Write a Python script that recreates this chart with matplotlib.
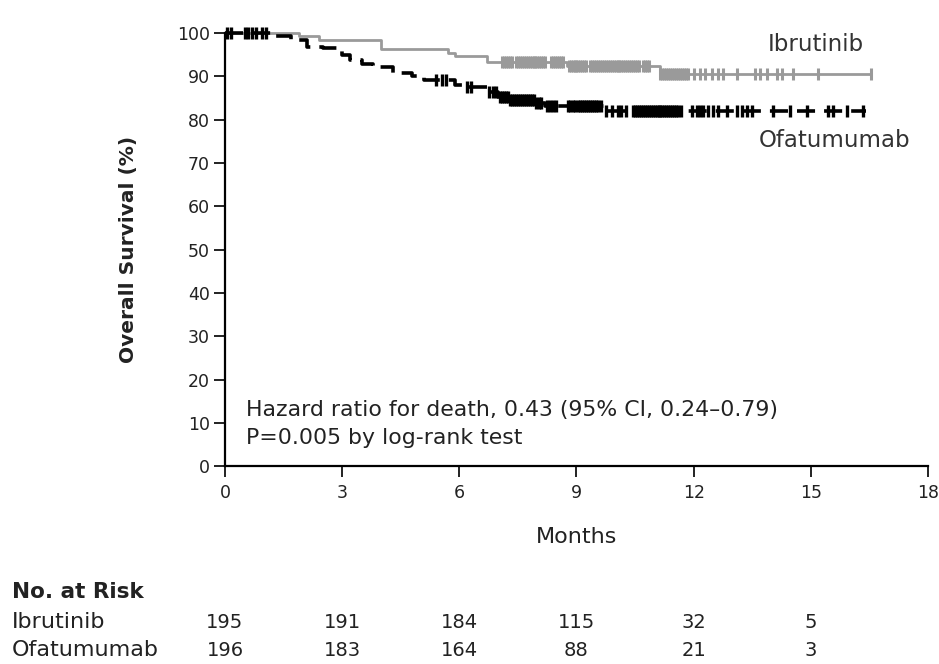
import numpy as np
import matplotlib
matplotlib.use("Agg")
import matplotlib.pyplot as plt
import matplotlib.transforms as mtransforms

plt.rcParams['font.family'] = ['DejaVu Sans']

# Kaplan-Meier steps (months, % surviving)
ibr_t = [0, 1.9, 2.4, 4.0, 5.7, 5.9, 6.7, 8.75, 11.15, 16.55]
ibr_s = [100, 99.3, 98.5, 96.3, 95.5, 94.7, 93.3, 92.5, 90.6, 90.6]
ofa_t = [0, 1.3, 1.7, 2.1, 2.5, 3.0, 3.2, 3.5, 3.8, 4.3, 4.8, 5.1, 5.9, 6.1,
         6.7, 7.0, 7.3, 7.95, 8.2, 9.7, 16.4]
ofa_s = [100, 99.4, 98.4, 96.8, 96.5, 95.0, 93.7, 93.0, 92.3, 90.8, 90.2, 89.3,
         88.0, 87.5, 86.5, 85.3, 84.6, 83.8, 83.2, 82.0, 82.0]

# censoring times
ibr_cens = [7.1, 7.15, 7.2, 7.25, 7.3, 7.35, 7.45, 7.5, 7.55, 7.6, 7.65, 7.7,
            7.75, 7.8, 7.85, 7.9, 7.95, 8.0, 8.05, 8.1, 8.15, 8.2, 8.35, 8.4,
            8.45, 8.5, 8.55, 8.6, 8.65, 8.8, 8.85, 8.9, 8.95, 9.0, 9.05, 9.1,
            9.15, 9.2, 9.25, 9.35, 9.4, 9.45, 9.5, 9.55, 9.6, 9.65, 9.7, 9.75,
            9.8, 9.85, 9.9, 9.95, 10.0, 10.05, 10.1, 10.15, 10.2, 10.25, 10.3,
            10.35, 10.4, 10.45, 10.5, 10.55, 10.6, 10.7, 10.75, 10.8, 10.85,
            11.15, 11.2, 11.25, 11.3, 11.35, 11.4, 11.45, 11.5, 11.55, 11.6,
            11.65, 11.7, 11.75, 11.8, 11.85, 12.0, 12.16, 12.29, 12.47, 12.62,
            12.75, 13.1, 13.57, 13.7, 13.88, 14.13, 14.26, 14.54, 15.18, 16.55]
ofa_cens = [0.05, 0.15, 0.5, 0.6, 0.7, 0.8, 0.95, 1.05, 5.4, 5.55, 5.65, 6.2,
            6.3, 6.75, 6.85, 6.95, 7.05, 7.1, 7.15, 7.2, 7.25, 7.3, 7.35, 7.4,
            7.45, 7.5, 7.55, 7.6, 7.65, 7.7, 7.75, 7.8, 7.85, 7.9, 7.97, 8.03,
            8.1, 8.25, 8.32, 8.4, 8.48, 8.77, 8.83, 8.9, 8.97, 9.04, 9.1, 9.15,
            9.2, 9.25, 9.3, 9.35, 9.4, 9.45, 9.5, 9.55, 9.62, 9.75, 9.9, 10.06,
            10.15, 10.28, 10.45, 10.5, 10.55, 10.6, 10.65, 10.7, 10.75, 10.8,
            10.85, 10.9, 10.95, 11.0, 11.05, 11.1, 11.15, 11.2, 11.25, 11.3,
            11.35, 11.4, 11.45, 11.5, 11.55, 11.6, 11.68, 11.96, 12.08, 12.16,
            12.24, 12.37, 12.5, 12.62, 12.85, 13.1, 13.24, 13.36, 13.49, 14.03,
            14.46, 14.9, 15.44, 15.57, 15.92, 16.33]

# numbers at risk
risk_months = [0, 3, 6, 9, 12, 15]
ibr_risk = [195, 191, 184, 115, 32, 5]
ofa_risk = [196, 183, 164, 88, 21, 3]

gray = '#9a9a9a'
ink = '#222222'


def level(t, s, c):
    idx = np.searchsorted(t, c, side='right') - 1
    return np.array(s)[idx]


fig = plt.figure(figsize=(9.39, 6.64), dpi=100)
ax = fig.add_axes([0.2396, 0.298, 0.7487, 0.652])

ax.step(ibr_t, ibr_s, where='post', color=gray, lw=2, clip_on=False)
ax.plot(ibr_cens, level(ibr_t, ibr_s, ibr_cens), ls='none', marker='|',
        ms=9, mew=2.2, color=gray, clip_on=False)
ax.step(ofa_t, ofa_s, where='post', color='black', lw=2.6,
        dashes=(5, 2.5), clip_on=False)
ax.plot(ofa_cens, level(ofa_t, ofa_s, ofa_cens), ls='none', marker='|',
        ms=9, mew=2.4, color='black', clip_on=False)

ax.set_xlim(0, 18)
ax.set_ylim(0, 100)
ax.set_xticks(range(0, 19, 3))
ax.set_yticks(range(0, 101, 10))
for sp in ['top', 'right']:
    ax.spines[sp].set_visible(False)
for sp in ['left', 'bottom']:
    ax.spines[sp].set_linewidth(1.6)
ax.tick_params(direction='out', length=8, width=1.4, labelsize=12.5,
               colors=ink, pad=3)
ax.tick_params(axis='x', pad=5)
ax.set_xlabel('Months', fontsize=16, labelpad=18, color=ink)
ax.set_ylabel('Overall Survival (%)', fontsize=14.5, fontweight='bold',
              labelpad=28, color=ink)

ax.text(16.35, 97.3, 'Ibrutinib', ha='right', va='center', fontsize=16.5,
        color='#333333')
ax.text(17.55, 75.3, 'Ofatumumab', ha='right', va='center', fontsize=16.5,
        color='#333333')
ax.text(0.55, 12.9, 'Hazard ratio for death, 0.43 (95% CI, 0.24\u20130.79)',
        fontsize=15.8, color=ink, va='center')
ax.text(0.55, 6.4, 'P=0.005 by log-rank test', fontsize=15.8,
        color=ink, va='center')

# risk table: x in data units, y in figure units
tr = mtransforms.blended_transform_factory(ax.transData, fig.transFigure)
fig.text(12 / 939, 1 - 592 / 664, 'No. at Risk', fontsize=15.5,
         fontweight='bold', va='center', color=ink)
fig.text(12 / 939, 1 - 622 / 664, 'Ibrutinib', fontsize=16, va='center',
         color=ink)
fig.text(12 / 939, 1 - 650 / 664, 'Ofatumumab', fontsize=16, va='center',
         color=ink)
for i, m in enumerate(risk_months):
    ax.text(m, 1 - 622 / 664, str(ibr_risk[i]), fontsize=14,
            va='center', ha='center', transform=tr, color=ink)
    ax.text(m, 1 - 650 / 664, str(ofa_risk[i]), fontsize=14,
            va='center', ha='center', transform=tr, color=ink)

fig.savefig('out.png', dpi=100)
